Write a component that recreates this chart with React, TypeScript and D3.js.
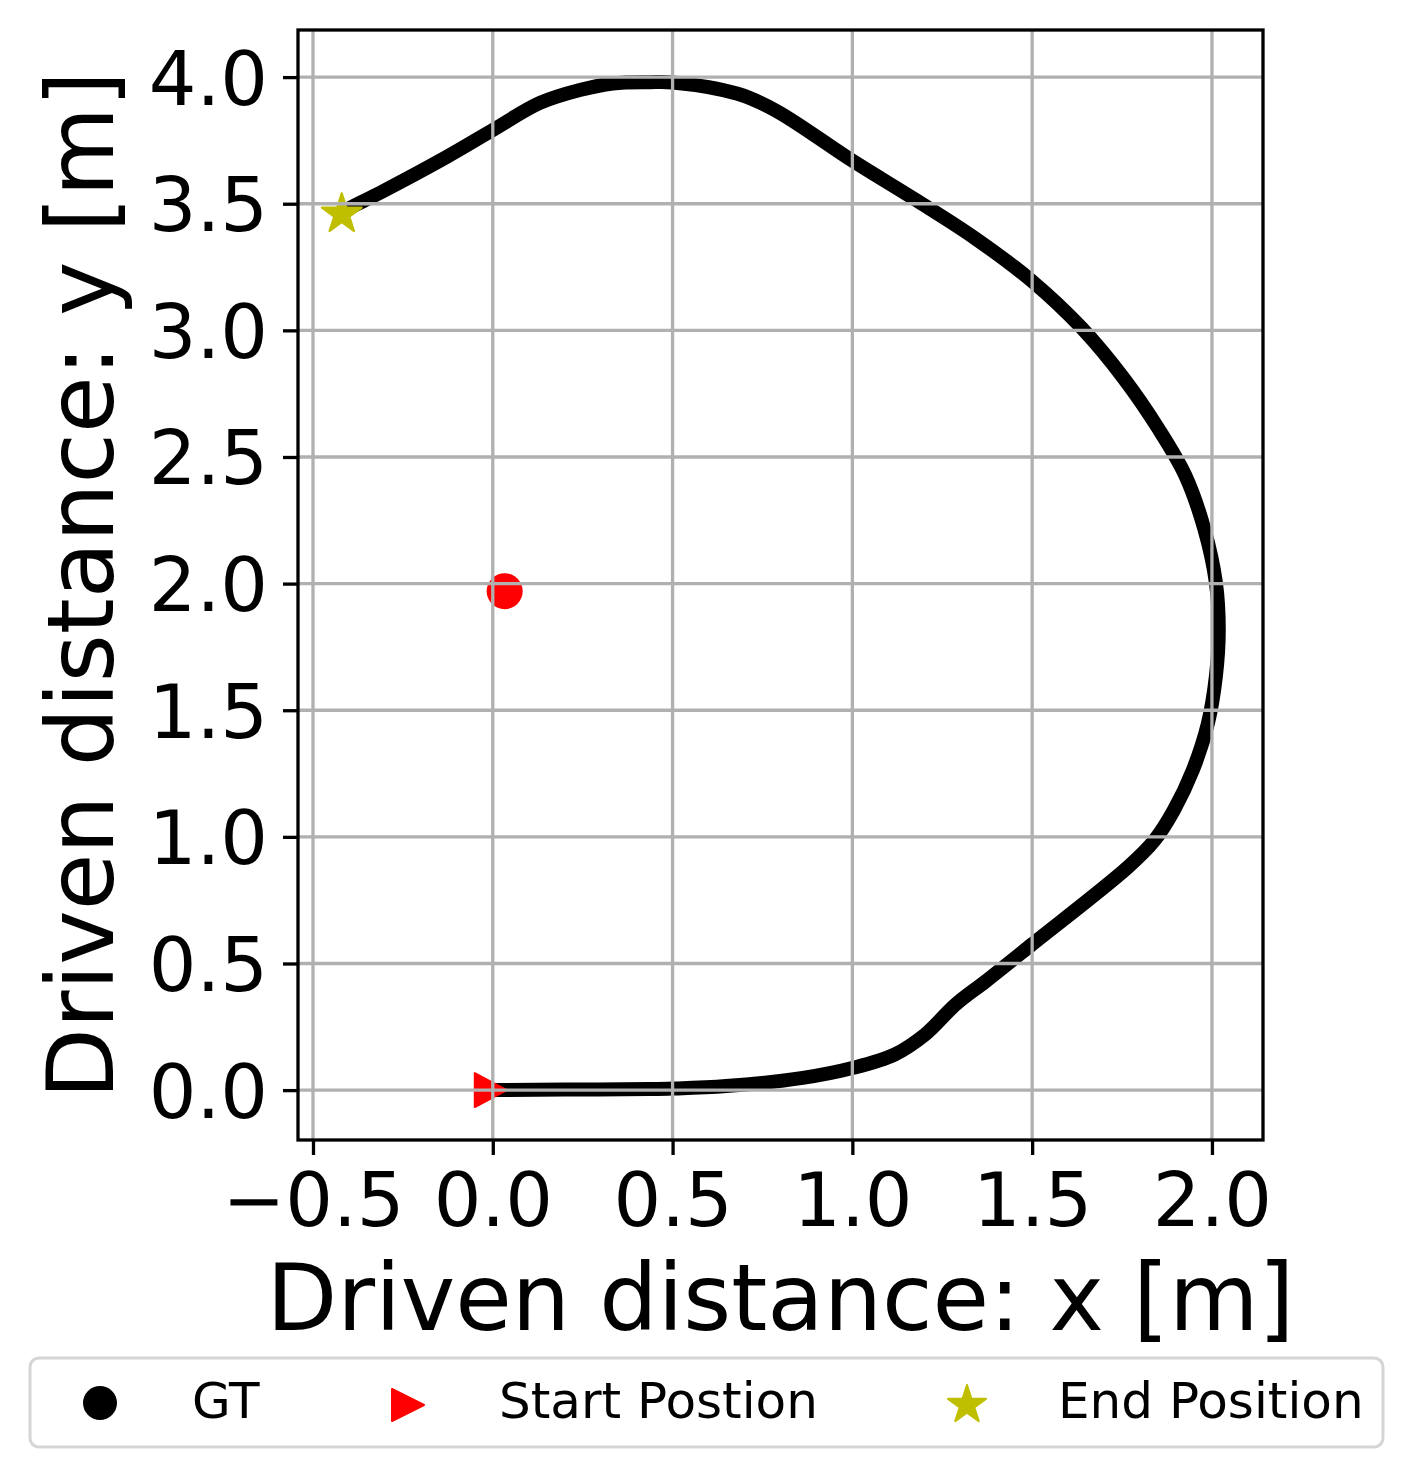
import React, { useEffect, useRef } from "react";
import * as d3 from "d3";

const gtX = [0.0, 0.2, 0.436, 0.5, 0.649, 0.862, 1.0, 1.117, 1.202, 1.287, 1.372, 1.5, 1.766, 1.84, 1.894, 1.947, 1.989, 2.011, 2.019, 2.011, 1.979, 1.926, 1.851, 1.755, 1.638, 1.5, 1.34, 1.181, 1.0, 0.787, 0.681, 0.5, 0.437, 0.334, 0.242, 0.131, 0.0, -0.128, -0.314, -0.398, -0.42];
const gtY = [0.0, 0.002, 0.004, 0.006, 0.016, 0.048, 0.087, 0.14, 0.219, 0.338, 0.431, 0.576, 0.88, 0.986, 1.105, 1.264, 1.449, 1.634, 1.819, 2.004, 2.215, 2.427, 2.612, 2.81, 3.009, 3.194, 3.365, 3.511, 3.67, 3.868, 3.934, 3.979, 3.98, 3.975, 3.949, 3.898, 3.791, 3.685, 3.543, 3.483, 3.463];

const startPos = [0.0, 0.0];
const endPos = [-0.42, 3.463];
const redPoint = [0.033, 1.97];

const xTicks = [-0.5, 0.0, 0.5, 1.0, 1.5, 2.0];
const yTicks = [0.0, 0.5, 1.0, 1.5, 2.0, 2.5, 3.0, 3.5, 4.0];
const legendLabels = ["GT", "Start Postion", "End Position"];

const W = 1413;
const H = 1477;
const plot = { left: 298, right: 1263, top: 30, bottom: 1140 };
const font = "DejaVu Sans, sans-serif";

const starPath = (r: number) => {
  const pts: string[] = [];
  for (let i = 0; i < 10; i++) {
    const rad = i % 2 === 0 ? r : r * 0.381966;
    const a = -Math.PI / 2 + (i * Math.PI) / 5;
    pts.push(`${(rad * Math.cos(a)).toFixed(2)},${(rad * Math.sin(a)).toFixed(2)}`);
  }
  return "M" + pts.join("L") + "Z";
};

const triPath = (w: number, h: number) => `M${w},0L${-w},${-h}L${-w},${h}Z`;

const App = () => {
  const svgRef = useRef<SVGSVGElement>(null);

  useEffect(() => {
    document.body.style.margin = "0";
    const svg = d3.select(svgRef.current);
    svg.selectAll("*").remove();

    const x = d3.scaleLinear().domain([-0.5417, 2.142]).range([plot.left, plot.right]);
    const y = d3.scaleLinear().domain([-0.197, 4.186]).range([plot.bottom, plot.top]);

    svg.append("rect").attr("width", W).attr("height", H).attr("fill", "white");

    // trajectory
    const pts = gtX.map((v, i) => [v, gtY[i]] as [number, number]);
    const line = d3.line<[number, number]>()
      .x((d) => x(d[0]))
      .y((d) => y(d[1]))
      .curve(d3.curveCatmullRom.alpha(0.5));

    svg.append("path")
      .datum(pts)
      .attr("d", line)
      .attr("fill", "none")
      .attr("stroke", "black")
      .attr("stroke-width", 14)
      .attr("stroke-linecap", "round")
      .attr("stroke-linejoin", "round");

    svg.append("circle")
      .attr("cx", x(redPoint[0]))
      .attr("cy", y(redPoint[1]))
      .attr("r", 18)
      .attr("fill", "#ff0000");

    svg.append("path")
      .attr("d", triPath(16, 17))
      .attr("transform", `translate(${x(startPos[0]) - 2},${y(startPos[1])})`)
      .attr("fill", "#ff0000")
      .attr("stroke", "#ff0000")
      .attr("stroke-width", 2)
      .attr("stroke-linejoin", "round");

    svg.append("path")
      .attr("d", starPath(21))
      .attr("transform", `translate(${x(endPos[0])},${y(endPos[1]) + 1})`)
      .attr("fill", "#bfbf00")
      .attr("stroke", "#bfbf00")
      .attr("stroke-width", 2)
      .attr("stroke-linejoin", "round");

    // grid drawn above the markers, like matplotlib
    const grid = svg.append("g").attr("stroke", "#b0b0b0").attr("stroke-width", 3.3);
    grid.selectAll("line.gx")
      .data(xTicks)
      .join("line")
      .attr("x1", (d) => x(d))
      .attr("x2", (d) => x(d))
      .attr("y1", plot.top)
      .attr("y2", plot.bottom);
    grid.selectAll("line.gy")
      .data(yTicks)
      .join("line")
      .attr("class", "gy")
      .attr("y1", (d) => y(d))
      .attr("y2", (d) => y(d))
      .attr("x1", plot.left)
      .attr("x2", plot.right);

    // axes
    const fmt = d3.format(".1f");
    const xAxis = d3.axisBottom(x).tickValues(xTicks).tickFormat((d) => fmt(d as number))
      .tickSize(15).tickSizeOuter(0).tickPadding(18);
    const gx = svg.append("g").attr("transform", `translate(0,${plot.bottom})`).call(xAxis);
    gx.select(".domain").remove();

    const yAxis = d3.axisLeft(y).tickValues(yTicks).tickFormat((d) => fmt(d as number))
      .tickSize(15).tickSizeOuter(0).tickPadding(15);
    const gy = svg.append("g").attr("transform", `translate(${plot.left},0)`).call(yAxis);
    gy.select(".domain").remove();
    gy.selectAll("text").attr("dy", "0.36em");

    [gx, gy].forEach((g) => {
      g.selectAll("line").attr("stroke", "black").attr("stroke-width", 3.3);
      g.selectAll("text").attr("fill", "black").style("font-family", font).style("font-size", "75px");
    });

    svg.append("rect")
      .attr("x", plot.left)
      .attr("y", plot.top)
      .attr("width", plot.right - plot.left)
      .attr("height", plot.bottom - plot.top)
      .attr("fill", "none")
      .attr("stroke", "black")
      .attr("stroke-width", 3.3);

    // axis labels
    svg.append("text")
      .attr("x", (plot.left + plot.right) / 2)
      .attr("y", 1330)
      .attr("text-anchor", "middle")
      .style("font-family", font)
      .style("font-size", "92px")
      .text("Driven distance: x [m]");

    svg.append("text")
      .attr("transform", `translate(113,${(plot.top + plot.bottom) / 2}) rotate(-90)`)
      .attr("text-anchor", "middle")
      .style("font-family", font)
      .style("font-size", "92px")
      .text("Driven distance: y [m]");

    // legend
    const lg = svg.append("g");
    lg.append("rect")
      .attr("x", 30)
      .attr("y", 1358)
      .attr("width", 1353)
      .attr("height", 89)
      .attr("rx", 9)
      .attr("fill", "white")
      .attr("stroke", "#d5d5d5")
      .attr("stroke-width", 3);

    const markerX = [100, 408, 967];
    const textX = [192, 499, 1058];
    const cy = 1403;
    lg.append("circle").attr("cx", markerX[0]).attr("cy", cy).attr("r", 17).attr("fill", "black");
    lg.append("path")
      .attr("d", triPath(16, 16))
      .attr("transform", `translate(${markerX[1]},${cy + 2})`)
      .attr("fill", "#ff0000")
      .attr("stroke", "#ff0000")
      .attr("stroke-width", 2)
      .attr("stroke-linejoin", "round");
    lg.append("path")
      .attr("d", starPath(20))
      .attr("transform", `translate(${markerX[2]},${cy + 2})`)
      .attr("fill", "#bfbf00")
      .attr("stroke", "#bfbf00")
      .attr("stroke-width", 2)
      .attr("stroke-linejoin", "round");

    lg.selectAll("text.lbl")
      .data(legendLabels)
      .join("text")
      .attr("x", (_, i) => textX[i])
      .attr("y", 1418)
      .style("font-family", font)
      .style("font-size", "50px")
      .text((d) => d);
  }, []);

  return <svg ref={svgRef} width={W} height={H} style={{ display: "block" }}></svg>;
};

export default App;
